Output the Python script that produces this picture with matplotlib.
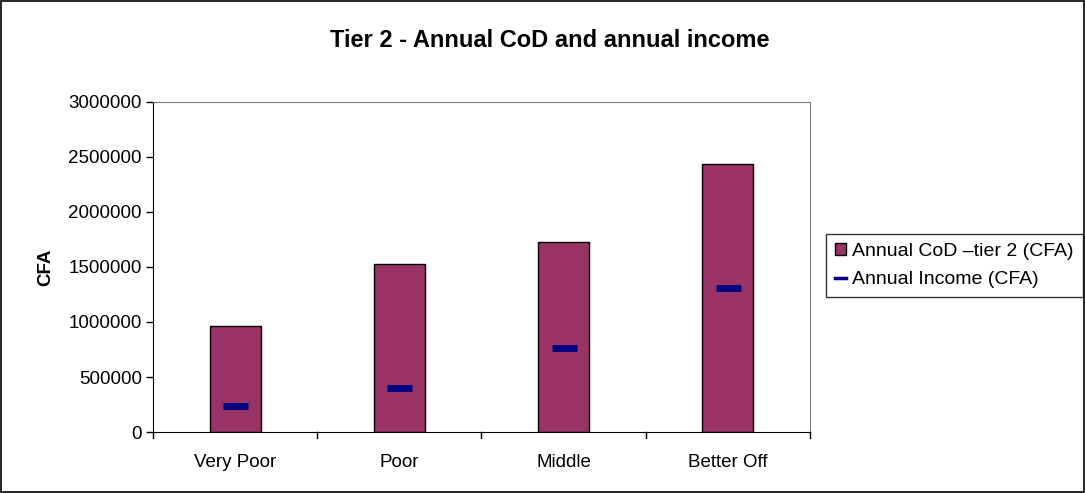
import matplotlib.pyplot as plt
from matplotlib.lines import Line2D
from matplotlib.patches import Patch, Rectangle
from matplotlib.ticker import StrMethodFormatter

plt.rcParams['font.family'] = ['Liberation Sans', 'DejaVu Sans']

categories = ['Very Poor', 'Poor', 'Middle', 'Better Off']
annual_cod = [968000, 1530000, 1730000, 2440000]
annual_income = [240000, 400000, 760000, 1305000]

bar_color = '#993366'
income_color = '#000080'

fig = plt.figure(figsize=(10.85, 4.93), dpi=100)
ax = fig.add_axes([0.141, 0.1237, 0.6055, 0.6695])

x = list(range(len(categories)))
ax.bar(x, annual_cod, width=0.31, color=bar_color, edgecolor='black', linewidth=1, zorder=2)
ax.plot(x, annual_income, ls='none', marker='_', ms=18, mew=5, color=income_color, zorder=3)

ax.set_xlim(-0.5, 3.5)
ax.set_ylim(0, 3000000)
ax.set_yticks(range(0, 3000001, 500000))
ax.yaxis.set_major_formatter(StrMethodFormatter('{x:.0f}'))
ax.set_xticks(x)
ax.set_xticklabels(categories, fontsize=13.5)
ax.tick_params(axis='x', length=0, pad=16)
ax.tick_params(axis='y', direction='out', length=5, width=1, labelsize=13.5, pad=3)

# category separators below the x axis
for b in [-0.5, 0.5, 1.5, 2.5, 3.5]:
    ax.plot([b, b], [0, -0.018], transform=ax.get_xaxis_transform(), color='black',
            lw=1, clip_on=False)

ax.spines['top'].set_color('#808080')
ax.spines['right'].set_color('#808080')
ax.spines['left'].set_color('black')
ax.spines['bottom'].set_color('black')

ax.set_ylabel('CFA', fontsize=13.5, fontweight='bold', labelpad=10)
fig.text(0.507, 0.918, 'Tier 2 - Annual CoD and annual income', ha='center', va='center',
         fontsize=17, fontweight='bold')

handles = [
    Patch(facecolor=bar_color, edgecolor='black', linewidth=1),
    Line2D([0], [0], color=income_color, lw=2.5),
]
labels = ['Annual CoD \u2013tier 2 (CFA)', 'Annual Income (CFA)']
leg = fig.legend(handles, labels, loc='upper left', bbox_to_anchor=(0.7613, 0.5254),
                 frameon=True, fancybox=False, edgecolor='black', fontsize=14,
                 handlelength=0.6, handleheight=0.6, handletextpad=0.3,
                 borderpad=0.45, labelspacing=0.6, borderaxespad=0)
leg.get_frame().set_linewidth(1)

fig.patches.append(Rectangle((0.001, 0.002), 0.998, 0.996, transform=fig.transFigure,
                             fill=False, edgecolor='black', linewidth=1.2))

fig.savefig('out.png', dpi=100)
